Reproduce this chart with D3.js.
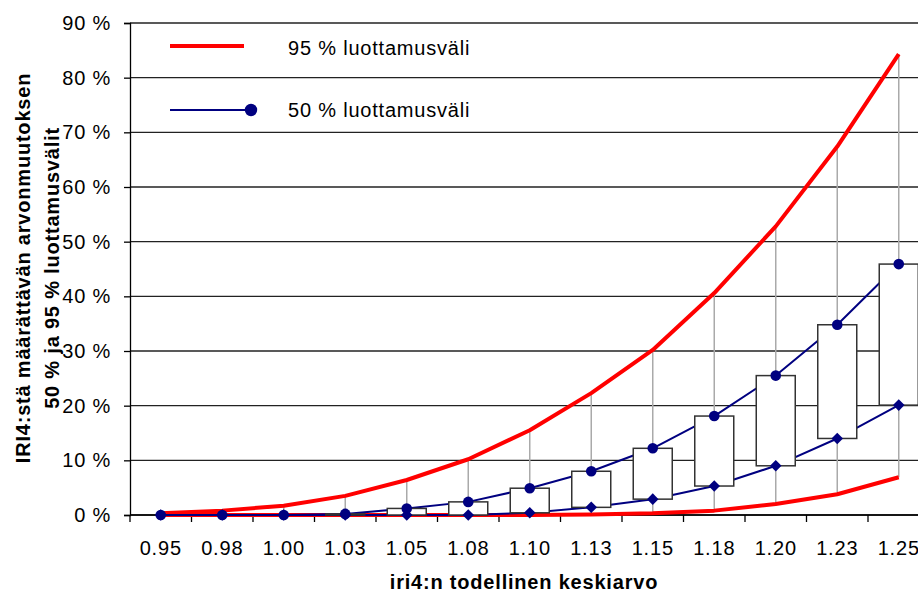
<!DOCTYPE html>
<html>
<head>
<meta charset="utf-8">
<script src="https://cdn.jsdelivr.net/npm/d3@7"></script>
<style>
  body { margin: 0; background: #fff; }
  svg { display: block; font-family: "Liberation Sans", Arial, sans-serif; }
</style>
</head>
<body>
<svg id="chart-svg" width="918" height="594"></svg>
<script>
// categories: iri4 true mean
const categories = ["0.95", "0.98", "1.00", "1.03", "1.05", "1.08", "1.10", "1.13", "1.15", "1.18", "1.20", "1.23", "1.25"];
// confidence interval limits, %
const upper95 = [0.3, 0.8, 1.7, 3.5, 6.4, 10.2, 15.5, 22.3, 30.2, 40.6, 52.8, 67.4, 84.3];
const upper50 = [0, 0, 0, 0.2, 1.2, 2.4, 4.9, 8.0, 12.2, 18.1, 25.5, 34.8, 45.9];
const lower50 = [0, 0, 0, 0, 0, 0, 0.4, 1.4, 2.9, 5.3, 9.0, 14.0, 20.1];
const lower95 = [0, 0, 0, 0, 0, 0, 0, 0.1, 0.3, 0.8, 2.0, 3.8, 6.9];
const yTicks = [0, 10, 20, 30, 40, 50, 60, 70, 80, 90];
const legendLabels = ["95 % luottamusväli", "50 % luottamusväli"];

const svg = d3.select("#chart-svg");
const plot = { left: 130, right: 929.5, top: 23, bottom: 515 };
const RED = "#ff0000", NAVY = "#000080";
const fontSize = 20, spacing = "0.8px";

const x = d3.scaleBand()
    .domain(categories)
    .range([plot.left, plot.right])
    .padding(0);
const y = d3.scaleLinear()
    .domain([0, 90])
    .range([plot.bottom, plot.top]);
const cx = c => x(c) + x.bandwidth() / 2;

const rows = categories.map((c, i) => ({
    cat: c, u95: upper95[i], u50: upper50[i], l50: lower50[i], l95: lower95[i]
}));

// gridlines
svg.append("g").selectAll("line")
    .data(yTicks)
    .enter().append("line")
    .attr("x1", plot.left).attr("x2", plot.right)
    .attr("y1", d => y(d)).attr("y2", d => y(d))
    .attr("stroke", "#222").attr("stroke-width", 1.3);

// y axis
const yAxis = svg.append("g")
    .attr("transform", `translate(${plot.left},0)`)
    .call(d3.axisLeft(y).tickValues(yTicks).tickSize(6).tickPadding(13)
        .tickFormat(d => d + " %"));
yAxis.select(".domain").attr("stroke", "#000").attr("stroke-width", 1.3);
yAxis.selectAll(".tick line").attr("stroke", "#000").attr("stroke-width", 1.3);
yAxis.selectAll("text")
    .attr("font-size", fontSize).attr("fill", "#000")
    .style("font-family", '"Liberation Sans", Arial, sans-serif')
    .style("letter-spacing", spacing);

// x axis: labels at band centres, ticks on band edges
const xAxis = svg.append("g")
    .attr("transform", `translate(0,${plot.bottom})`)
    .call(d3.axisBottom(x).tickSize(0).tickPadding(26));
xAxis.select(".domain").remove();
xAxis.selectAll("text")
    .attr("font-size", fontSize).attr("fill", "#000")
    .style("font-family", '"Liberation Sans", Arial, sans-serif')
    .style("letter-spacing", spacing);
svg.append("line")
    .attr("x1", plot.left).attr("x2", plot.right)
    .attr("y1", plot.bottom).attr("y2", plot.bottom)
    .attr("stroke", "#000").attr("stroke-width", 1.3);
svg.append("g").selectAll("line")
    .data(categories)
    .enter().append("line")
    .attr("x1", d => x(d)).attr("x2", d => x(d))
    .attr("y1", plot.bottom).attr("y2", plot.bottom + 7)
    .attr("stroke", "#000").attr("stroke-width", 1.3);

// high-low lines
svg.append("g").selectAll("line")
    .data(rows)
    .enter().append("line")
    .attr("x1", d => cx(d.cat)).attr("x2", d => cx(d.cat))
    .attr("y1", d => y(d.u95)).attr("y2", d => y(d.l95))
    .attr("stroke", "#aaa").attr("stroke-width", 1.5);

// series lines
const line = key => d3.line().x(d => cx(d.cat)).y(d => y(d[key]));
[["l95", RED, 4], ["u95", RED, 4], ["l50", NAVY, 2], ["u50", NAVY, 2]].forEach(([k, col, w]) => {
    svg.append("path")
        .datum(rows)
        .attr("d", line(k))
        .attr("fill", "none")
        .attr("stroke", col)
        .attr("stroke-width", w)
        .attr("stroke-linejoin", "round");
});

// 50 % boxes
const boxW = 39;
svg.append("g").selectAll("rect")
    .data(rows)
    .enter().append("rect")
    .attr("x", d => cx(d.cat) - boxW / 2)
    .attr("y", d => y(d.u50))
    .attr("width", boxW)
    .attr("height", d => Math.max(0, y(d.l50) - y(d.u50)))
    .attr("fill", "#fff")
    .attr("stroke", d => (y(d.l50) - y(d.u50)) < 1 ? "#000" : "#333")
    .attr("stroke-width", d => (y(d.l50) - y(d.u50)) < 1 ? 3 : 1.5);

// markers
svg.append("g").selectAll("path")
    .data(rows)
    .enter().append("path")
    .attr("d", d3.symbol().type(d3.symbolDiamond2).size(85))
    .attr("transform", d => `translate(${cx(d.cat)},${y(d.l50)})`)
    .attr("fill", NAVY);
svg.append("g").selectAll("circle")
    .data(rows)
    .enter().append("circle")
    .attr("cx", d => cx(d.cat))
    .attr("cy", d => y(d.u50))
    .attr("r", 5.3)
    .attr("fill", NAVY);

// legend
const legend = svg.append("g");
legend.append("line")
    .attr("x1", 170).attr("x2", 244).attr("y1", 46).attr("y2", 46)
    .attr("stroke", RED).attr("stroke-width", 4);
legend.append("line")
    .attr("x1", 170).attr("x2", 251).attr("y1", 110).attr("y2", 110)
    .attr("stroke", NAVY).attr("stroke-width", 2);
legend.append("circle")
    .attr("cx", 251).attr("cy", 110).attr("r", 6.2).attr("fill", NAVY);
legend.selectAll("text")
    .data(legendLabels)
    .enter().append("text")
    .attr("x", 288)
    .attr("y", (d, i) => 55 + i * 62)
    .attr("font-size", fontSize)
    .style("letter-spacing", spacing)
    .text(d => d);

// axis titles
svg.append("text")
    .attr("x", 524).attr("y", 589)
    .attr("text-anchor", "middle")
    .attr("font-size", fontSize).attr("font-weight", "bold")
    .style("letter-spacing", spacing)
    .text("iri4:n todellinen keskiarvo");

const yTitle = svg.append("text")
    .attr("transform", "translate(0,268) rotate(-90)")
    .attr("text-anchor", "middle")
    .attr("font-size", fontSize).attr("font-weight", "bold")
    .style("letter-spacing", spacing);
yTitle.append("tspan").attr("x", 0).attr("y", 30).text("IRI4:stä määrättävän arvonmuutoksen");
yTitle.append("tspan").attr("x", 0).attr("y", 59).text("50 % ja 95 % luottamusvälit");
</script>
</body>
</html>
